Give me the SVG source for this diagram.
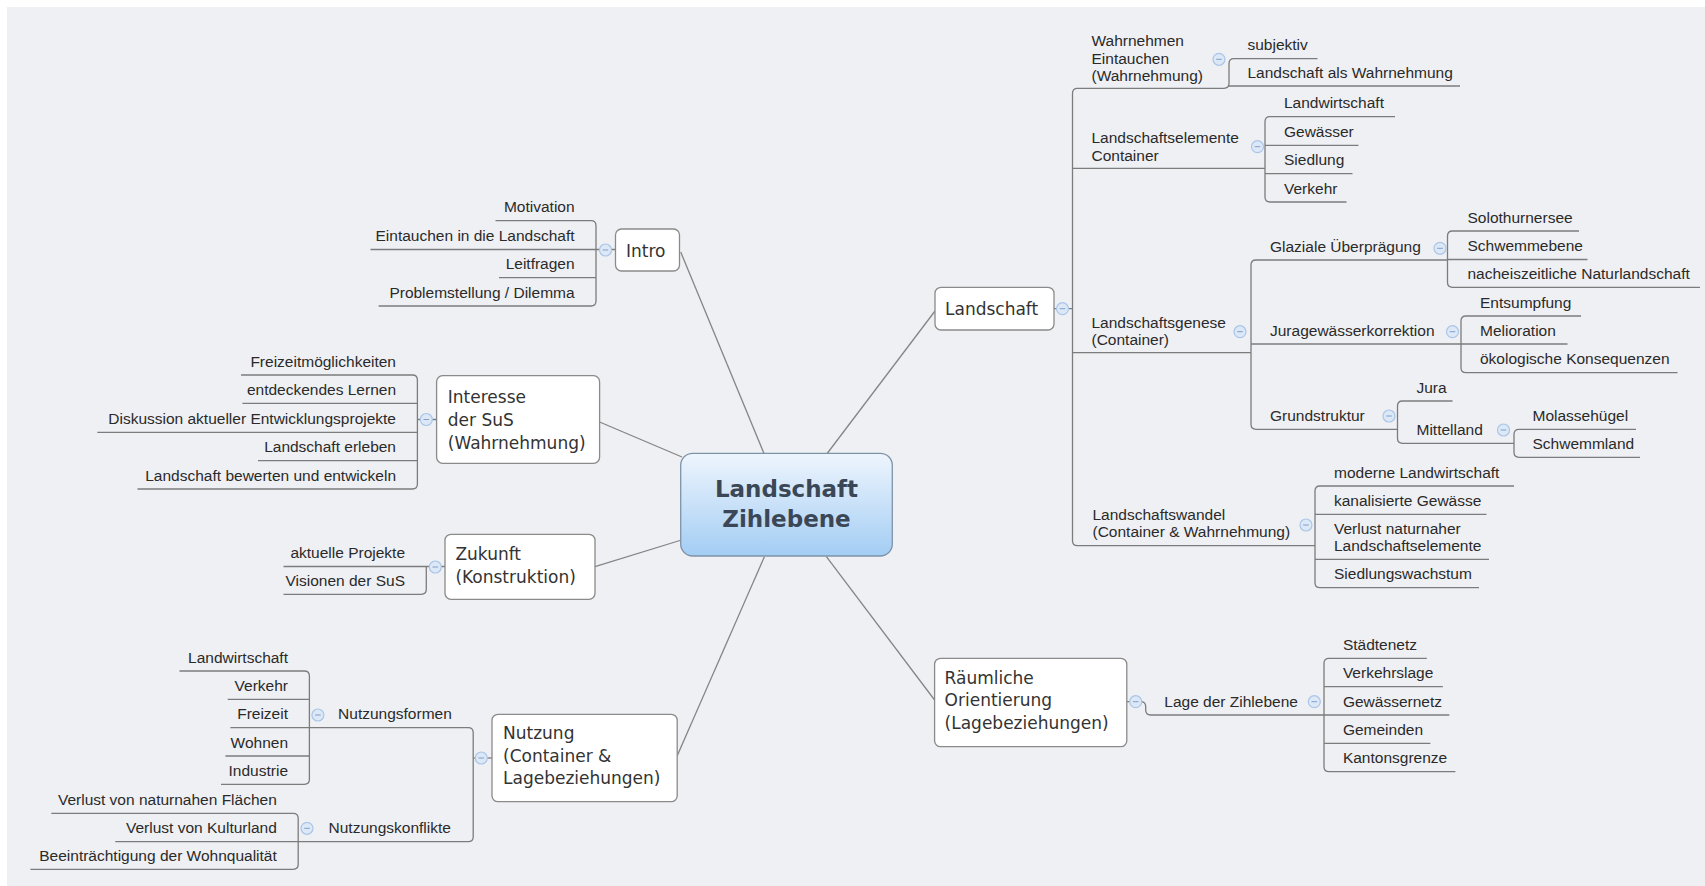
<svg xmlns="http://www.w3.org/2000/svg" xmlns:xlink="http://www.w3.org/1999/xlink" width="1705" height="886" viewBox="0 0 1705 886">
<defs>
<style>
.c{fill:none;stroke:#7c7c7c;stroke-width:1.3}
.e{fill:none;stroke:#858585;stroke-width:1.3}
.lf{font-family:"Liberation Sans",Arial,sans-serif;font-size:15.5px;fill:#2a2a2a}
.r{text-anchor:end}
.bx{fill:#ffffff;stroke:#8a8a8a;stroke-width:1.3}
.bt{font-family:"DejaVu Sans",sans-serif;font-size:17px;fill:#333333}
.ct{font-family:"DejaVu Sans",sans-serif;font-size:23px;font-weight:bold;fill:#3b4756;text-anchor:middle}
</style>
<linearGradient id="cg" x1="0" y1="0" x2="0" y2="1">
<stop offset="0" stop-color="#eef5fd"/>
<stop offset="1" stop-color="#a3cdf4"/>
</linearGradient>
<g id="tog"><circle r="6" fill="#dde8f7" stroke="#a9c5e8" stroke-width="1.2"/><path d="M-2.8,0H2.8" stroke="#7f9fcc" stroke-width="1"/></g>
</defs>
<rect width="1705" height="886" fill="#ffffff"/>
<rect x="7" y="7" width="1698" height="879" fill="#eff0f4"/>

<g id="connectors">
<!-- central to main branches -->
<path class="e" d="M680.7,252 L764.4,454.5"/>
<path class="e" d="M599.6,422 L682,457"/>
<path class="e" d="M595,566.7 L681.5,540"/>
<path class="e" d="M677.2,755.7 L764.4,556.7"/>
<path class="e" d="M935,311 L826.4,454.5"/>
<path class="e" d="M934.6,700 L826.4,556.7"/>
<!-- Intro -->
<path class="c" d="M495.5,220.7 H591 Q596,220.7 596,225.7 V301 Q596,306 591,306 H378.6"/>
<path class="c" d="M370.5,249.5 H615.5"/>
<path class="c" d="M499,277.7 H596"/>
<!-- Interesse -->
<path class="c" d="M241,375 H412.4 Q417.4,375 417.4,380 V484 Q417.4,489 412.4,489 H137.5"/>
<path class="c" d="M242.4,403.3 H417.4 M97.3,432.3 H417.4 M258,460.7 H417.4 M417.4,419.5 H436.6"/>
<!-- Zukunft -->
<path class="c" d="M283.5,566.5 H445 M426.3,566.5 V589.3 Q426.3,594.3 421.3,594.3 H283.5"/>
<!-- Nutzung -->
<path class="c" d="M230.4,727.7 H468.2 Q473.2,727.7 473.2,732.7 V836.7 Q473.2,841.7 468.2,841.7 H115.2"/>
<path class="c" d="M473.2,758 H492"/>
<path class="c" d="M179.5,671 H304.4 Q309.4,671 309.4,676 V779.3 Q309.4,784.3 304.4,784.3 H221"/>
<path class="c" d="M227.7,699.3 H309.4 M225.4,756 H309.4"/>
<path class="c" d="M51.3,813.3 H293.2 Q298.2,813.3 298.2,818.3 V864.3 Q298.2,869.3 293.2,869.3 H30.4"/>
<!-- Landschaft -->
<path class="c" d="M1315,545.7 H1077.5 Q1072.5,545.7 1072.5,540.7 V93.3 Q1072.5,88.3 1077.5,88.3 H1224 Q1229,88.3 1229,83.3 V63.7 Q1229,58.7 1234,58.7 H1317.5"/>
<path class="c" d="M1229,86 H1460 M1054,308.7 H1072.5 M1072.5,168.3 H1265 M1072.5,352.7 H1251"/>
<path class="c" d="M1395,116.7 H1270 Q1265,116.7 1265,121.7 V197 Q1265,202 1270,202 H1346.5 M1265,145.3 H1358.5 M1265,173.7 H1352.5"/>
<path class="c" d="M1447.5,260 H1256 Q1251,260 1251,265 V424.3 Q1251,429.3 1256,429.3 H1397.5 M1251,344 H1461"/>
<path class="c" d="M1579,231 H1452.5 Q1447.5,231 1447.5,236 V282.3 Q1447.5,287.3 1452.5,287.3 H1700 M1447.5,259.5 H1587.5"/>
<path class="c" d="M1581,316 H1466 Q1461,316 1461,321 V367.7 Q1461,372.7 1466,372.7 H1677.5 M1461,344 H1567.5"/>
<path class="c" d="M1452.5,401 H1402.5 Q1397.5,401 1397.5,406 V438.3 Q1397.5,443.3 1402.5,443.3 H1514"/>
<path class="c" d="M1636,429.3 H1519 Q1514,429.3 1514,434.3 V452.3 Q1514,457.3 1519,457.3 H1640"/>
<path class="c" d="M1514,486 H1320 Q1315,486 1315,491 V582.7 Q1315,587.7 1320,587.7 H1479 M1315,514.3 H1486.5 M1315,559.3 H1489"/>
<!-- Raeumliche -->
<path class="c" d="M1126.8,701.7 H1140.7 Q1145.7,701.7 1145.7,706.7 V710 Q1145.7,715 1150.7,715 H1449.3"/>
<path class="c" d="M1426.8,658.3 H1329 Q1324,658.3 1324,663.3 V766.7 Q1324,771.7 1329,771.7 H1455.4 M1324,686.7 H1442.9 M1324,743.3 H1430.4"/>
<!-- toggles -->
<use xlink:href="#tog" x="605.5" y="250"/>
<use xlink:href="#tog" x="426.3" y="419.5"/>
<use xlink:href="#tog" x="435.3" y="567"/>
<use xlink:href="#tog" x="481.3" y="758"/>
<use xlink:href="#tog" x="317.9" y="715"/>
<use xlink:href="#tog" x="307" y="828.3"/>
<use xlink:href="#tog" x="1062.5" y="308.7"/>
<use xlink:href="#tog" x="1219" y="59.3"/>
<use xlink:href="#tog" x="1257.5" y="146.7"/>
<use xlink:href="#tog" x="1240" y="331.7"/>
<use xlink:href="#tog" x="1440" y="248.3"/>
<use xlink:href="#tog" x="1452.5" y="331.7"/>
<use xlink:href="#tog" x="1389" y="416"/>
<use xlink:href="#tog" x="1503.5" y="430"/>
<use xlink:href="#tog" x="1306" y="525"/>
<use xlink:href="#tog" x="1135.7" y="701.7"/>
<use xlink:href="#tog" x="1314.3" y="701.7"/>
</g>

<g id="central">
<rect x="680.7" y="453.3" width="211.6" height="102.7" rx="12" fill="url(#cg)" stroke="#7f93a8" stroke-width="1.3"/>
<text class="ct" x="786.5" y="497.3">Landschaft</text>
<text class="ct" x="786.5" y="527.3">Zihlebene</text>
</g>

<g id="intro">
<rect class="bx" x="615.5" y="229" width="64" height="42" rx="6"/>
<text class="bt" x="626" y="257">Intro</text>
<text class="lf r" x="574.6" y="212.3">Motivation</text>
<text class="lf r" x="574.6" y="241">Eintauchen in die Landschaft</text>
<text class="lf r" x="574.6" y="269.3">Leitfragen</text>
<text class="lf r" x="574.6" y="297.6">Problemstellung / Dilemma</text>
</g>

<g id="interesse">
<rect class="bx" x="436.6" y="375.7" width="163" height="87.6" rx="6"/>
<text class="bt" x="447.8" y="403.3">Interesse</text>
<text class="bt" x="447.8" y="426">der SuS</text>
<text class="bt" x="447.8" y="448.5">(Wahrnehmung)</text>
<text class="lf r" x="396" y="366.6">Freizeitmöglichkeiten</text>
<text class="lf r" x="396" y="394.9">entdeckendes Lernen</text>
<text class="lf r" x="396" y="423.9">Diskussion aktueller Entwicklungsprojekte</text>
<text class="lf r" x="396" y="452.3">Landschaft erleben</text>
<text class="lf r" x="396" y="480.6">Landschaft bewerten und entwickeln</text>
</g>

<g id="zukunft">
<rect class="bx" x="445" y="534.3" width="150" height="65" rx="6"/>
<text class="bt" x="455.4" y="560">Zukunft</text>
<text class="bt" x="455.4" y="582.7">(Konstruktion)</text>
<text class="lf r" x="405" y="558">aktuelle Projekte</text>
<text class="lf r" x="405" y="586">Visionen der SuS</text>
</g>

<g id="nutzung">
<rect class="bx" x="492" y="714.3" width="185.2" height="87.4" rx="6"/>
<text class="bt" x="503" y="739.3">Nutzung</text>
<text class="bt" x="503" y="761.7">(Container &amp;</text>
<text class="bt" x="503" y="784.3">Lagebeziehungen)</text>
<text class="lf r" x="451.8" y="719.3">Nutzungsformen</text>
<text class="lf r" x="288" y="662.6">Landwirtschaft</text>
<text class="lf r" x="288" y="690.9">Verkehr</text>
<text class="lf r" x="288" y="719.3">Freizeit</text>
<text class="lf r" x="288" y="747.6">Wohnen</text>
<text class="lf r" x="288" y="775.9">Industrie</text>
<text class="lf r" x="450.9" y="833.3">Nutzungskonflikte</text>
<text class="lf r" x="276.8" y="804.9">Verlust von naturnahen Flächen</text>
<text class="lf r" x="276.8" y="833.3">Verlust von Kulturland</text>
<text class="lf r" x="276.8" y="860.9">Beeinträchtigung der Wohnqualität</text>
</g>

<g id="landschaft">
<rect class="bx" x="935" y="287.3" width="119" height="42.7" rx="6"/>
<text class="bt" x="945" y="315">Landschaft</text>
<text class="lf" x="1091.5" y="46">Wahrnehmen</text>
<text class="lf" x="1091.5" y="63.5">Eintauchen</text>
<text class="lf" x="1091.5" y="81">(Wahrnehmung)</text>
<text class="lf" x="1247.5" y="50.3">subjektiv</text>
<text class="lf" x="1247.5" y="77.6">Landschaft als Wahrnehmung</text>
<text class="lf" x="1091.5" y="143">Landschaftselemente</text>
<text class="lf" x="1091.5" y="161">Container</text>
<text class="lf" x="1284" y="108.3">Landwirtschaft</text>
<text class="lf" x="1284" y="136.9">Gewässer</text>
<text class="lf" x="1284" y="165.3">Siedlung</text>
<text class="lf" x="1284" y="193.6">Verkehr</text>
<text class="lf" x="1091.5" y="328">Landschaftsgenese</text>
<text class="lf" x="1091.5" y="345">(Container)</text>
<text class="lf" x="1270" y="251.6">Glaziale Überprägung</text>
<text class="lf" x="1467.5" y="222.6">Solothurnersee</text>
<text class="lf" x="1467.5" y="250.9">Schwemmebene</text>
<text class="lf" x="1467.5" y="278.9">nacheiszeitliche Naturlandschaft</text>
<text class="lf" x="1270" y="335.6">Juragewässerkorrektion</text>
<text class="lf" x="1480" y="307.6">Entsumpfung</text>
<text class="lf" x="1480" y="335.6">Melioration</text>
<text class="lf" x="1480" y="364.3">ökologische Konsequenzen</text>
<text class="lf" x="1270" y="421">Grundstruktur</text>
<text class="lf" x="1416.5" y="392.6">Jura</text>
<text class="lf" x="1416.5" y="434.9">Mittelland</text>
<text class="lf" x="1532.5" y="420.9">Molassehügel</text>
<text class="lf" x="1532.5" y="448.9">Schwemmland</text>
<text class="lf" x="1092.5" y="520">Landschaftswandel</text>
<text class="lf" x="1092.5" y="537.3">(Container &amp; Wahrnehmung)</text>
<text class="lf" x="1334" y="477.6">moderne Landwirtschaft</text>
<text class="lf" x="1334" y="505.9">kanalisierte Gewässe</text>
<text class="lf" x="1334" y="534">Verlust naturnaher</text>
<text class="lf" x="1334" y="550.5">Landschaftselemente</text>
<text class="lf" x="1334" y="579.3">Siedlungswachstum</text>
</g>

<g id="raeumliche">
<rect class="bx" x="934.6" y="658.3" width="192.2" height="88.4" rx="6"/>
<text class="bt" x="944.6" y="683.5">Räumliche</text>
<text class="bt" x="944.6" y="706">Orientierung</text>
<text class="bt" x="944.6" y="728.5">(Lagebeziehungen)</text>
<text class="lf" x="1164.3" y="706.6">Lage der Zihlebene</text>
<text class="lf" x="1342.9" y="649.9">Städtenetz</text>
<text class="lf" x="1342.9" y="678.3">Verkehrslage</text>
<text class="lf" x="1342.9" y="706.6">Gewässernetz</text>
<text class="lf" x="1342.9" y="734.9">Gemeinden</text>
<text class="lf" x="1342.9" y="763.3">Kantonsgrenze</text>
</g>
</svg>
